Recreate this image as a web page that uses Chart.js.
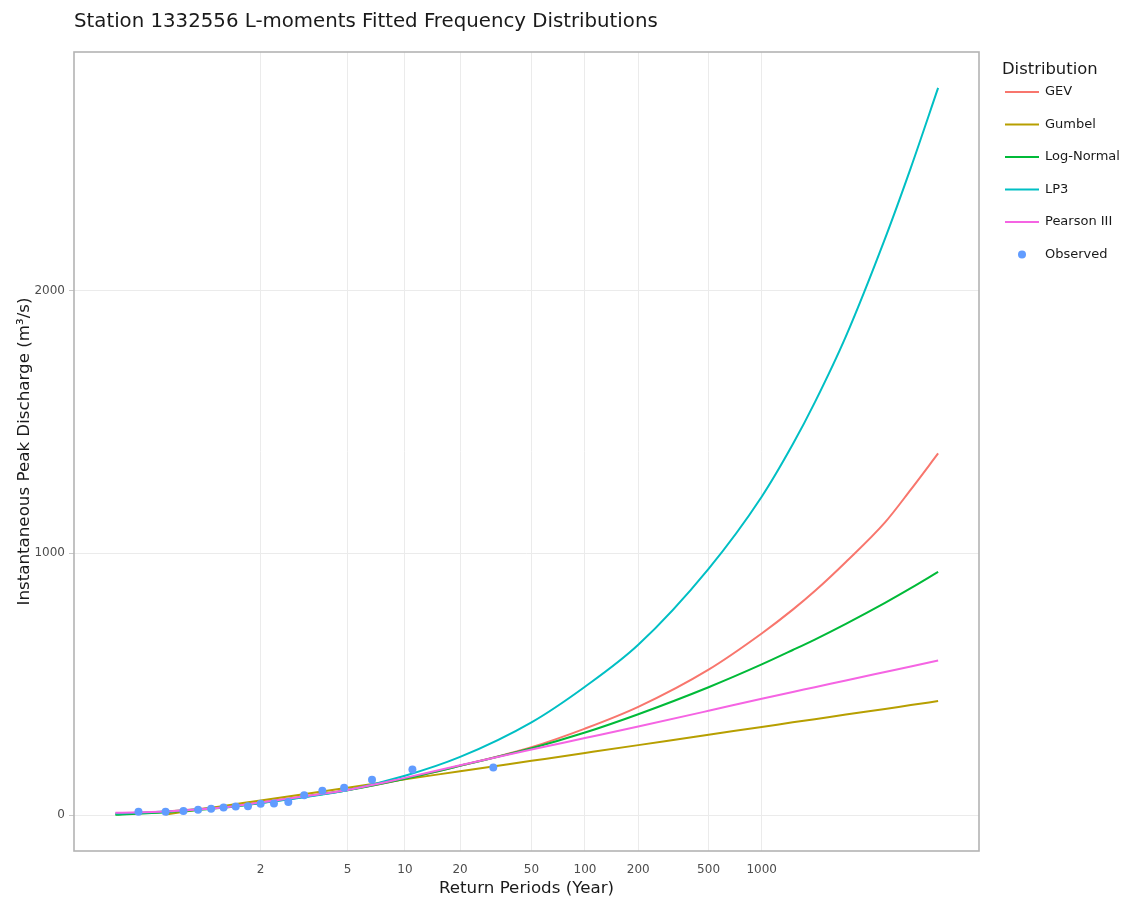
<!DOCTYPE html>
<html>
<head>
<meta charset="utf-8">
<script src="https://cdn.jsdelivr.net/npm/chart.js@4.4.1/dist/chart.umd.min.js"></script>
<style>
  html, body { margin: 0; padding: 0; background: #fff; }
  #wrap { width: 1125px; height: 901px; }
</style>
</head>
<body>
<div id="wrap"><canvas id="chart" width="1125" height="901"></canvas></div>
<script>
const returnPeriods = [1.01, 1.1, 1.5, 2, 3, 5, 10, 20, 50, 100, 200, 500, 1000, 1500, 2000, 3000, 5000, 7000, 10000];

// fitted quantiles, m3/s
const gevQ       = [3, 14, 33, 49, 70, 96, 138, 188, 259, 330, 413, 555, 693, 784, 855, 966, 1117, 1242, 1380];
const gumbelQ    = [null, 2.5, 36, 56, 79, 104, 137, 167, 207, 237, 267, 307, 336, 354, 366, 384, 405, 420, 435];
const logNormalQ = [1, 11, 29, 46, 68, 95, 139, 188, 255, 315, 385, 488, 575, 630, 670, 730, 810, 866, 928];
const lp3Q       = [6, 14, 30, 46, 67, 95, 150, 222, 354, 490, 650, 940, 1215, 1415, 1575, 1827, 2200, 2470, 2775];
const pearson3Q  = [9, 14, 30, 48, 70, 96, 142, 190, 250, 294, 338, 398, 444, 470, 488, 514, 546, 567, 590];

// observed annual peaks with their plotting-position return periods
const observedT = [1.034, 1.100, 1.176, 1.263, 1.363, 1.481, 1.621, 1.790, 2.000, 2.265, 2.610, 3.079, 3.754, 4.809, 6.687, 10.97, 30.57];
const observedQ = [13, 13, 16, 20, 24, 29, 33, 34, 43, 44, 50, 76, 93, 104, 135, 174, 182];

const tickPeriods = [2, 5, 10, 20, 50, 100, 200, 500, 1000];
const yTicks = [0, 1000, 2000];

const chartTitle = 'Station 1332556 L-moments Fitted Frequency Distributions';
const FONT = "'DejaVu Sans', Verdana, sans-serif";
Chart.defaults.font.family = FONT;

// x axis is the Gumbel reduced variate of the return period
const gumbelVariate = T => -Math.log(-Math.log(1 - 1 / T));

const toPoints = (periods, values) => periods
    .map((T, i) => ({ x: gumbelVariate(T), y: values[i] }))
    .filter(p => p.y !== null);

const lineSet = (label, values, color, order) => ({
    label: label,
    data: toPoints(returnPeriods, values),
    borderColor: color,
    backgroundColor: color,
    borderWidth: 2,
    pointRadius: 0,
    pointHoverRadius: 0,
    fill: false,
    cubicInterpolationMode: 'monotone',
    order: order
});

const datasets = [
    lineSet('GEV', gevQ, '#F8766D', 5),
    lineSet('Gumbel', gumbelQ, '#B79F00', 4),
    lineSet('Log-Normal', logNormalQ, '#00BA38', 3),
    lineSet('LP3', lp3Q, '#00BFC4', 2),
    lineSet('Pearson III', pearson3Q, '#F564E3', 1),
    {
        label: 'Observed',
        data: toPoints(observedT, observedQ),
        showLine: false,
        pointRadius: 4,
        pointHoverRadius: 4,
        pointBorderWidth: 0,
        pointBackgroundColor: '#619CFF',
        borderColor: '#619CFF',
        backgroundColor: '#619CFF',
        order: 0
    }
];

// panel frame, title and legend
const framePlugin = {
    id: 'frame',
    afterDraw: (chart) => {
        const ctx = chart.ctx;
        const a = chart.chartArea;
        ctx.save();
        ctx.strokeStyle = '#b3b3b3';
        ctx.lineWidth = 1.6;
        ctx.strokeRect(a.left, a.top, a.right - a.left, a.bottom - a.top);

        ctx.fillStyle = '#1a1a1a';
        ctx.textAlign = 'left';
        ctx.textBaseline = 'middle';
        ctx.font = '19.75px ' + FONT;
        ctx.fillText(chartTitle, a.left, 22);

        const lx = a.right + 23;
        ctx.font = '16.4px ' + FONT;
        ctx.fillText('Distribution', lx, 70);
        ctx.font = '13px ' + FONT;
        chart.data.datasets.forEach((ds, i) => {
            const y = 92 + i * 32.5;
            if (ds.showLine === false) {
                ctx.fillStyle = ds.pointBackgroundColor;
                ctx.beginPath();
                ctx.arc(lx + 20, y, 4, 0, Math.PI * 2);
                ctx.fill();
            } else {
                ctx.strokeStyle = ds.borderColor;
                ctx.lineWidth = 2;
                ctx.beginPath();
                ctx.moveTo(lx + 3, y);
                ctx.lineTo(lx + 37, y);
                ctx.stroke();
            }
            ctx.fillStyle = '#1a1a1a';
            ctx.fillText(ds.label, lx + 43, y);
        });
        ctx.restore();
    }
};

new Chart(document.getElementById('chart'), {
    type: 'line',
    data: { datasets: datasets },
    options: {
        responsive: false,
        animation: false,
        devicePixelRatio: 1,
        layout: { padding: { top: 52, right: 146, left: 0, bottom: 0 } },
        plugins: {
            legend: { display: false },
            tooltip: { enabled: false }
        },
        scales: {
            x: {
                type: 'linear',
                min: -2.07,
                max: 9.744,
                afterFit: (s) => { s.height = 50; },
                afterBuildTicks: (s) => { s.ticks = tickPeriods.map(T => ({ value: gumbelVariate(T) })); },
                ticks: {
                    callback: (v, i) => String(tickPeriods[i]),
                    color: '#4d4d4d',
                    font: { size: 12 },
                    padding: 12,
                    maxRotation: 0,
                    autoSkip: false
                },
                grid: { color: '#ebebeb', lineWidth: 1, drawTicks: false },
                border: { display: false },
                title: {
                    display: true,
                    text: 'Return Periods (Year)',
                    color: '#1a1a1a',
                    font: { size: 16.7 },
                    padding: { top: 0, bottom: 2 }
                }
            },
            y: {
                type: 'linear',
                min: -137,
                max: 2912,
                afterFit: (s) => { s.width = 74; },
                afterBuildTicks: (s) => { s.ticks = yTicks.map(v => ({ value: v })); },
                ticks: {
                    callback: (v) => String(v),
                    color: '#4d4d4d',
                    font: { size: 12 },
                    padding: 4
                },
                grid: { color: '#ebebeb', lineWidth: 1, tickColor: '#c8c8c8', tickLength: 5 },
                border: { display: false },
                title: {
                    display: true,
                    text: 'Instantaneous Peak Discharge (m³/s)',
                    color: '#1a1a1a',
                    font: { size: 16.7 },
                    padding: { top: 15, bottom: 0 }
                }
            }
        }
    },
    plugins: [framePlugin]
});
</script>
</body>
</html>
